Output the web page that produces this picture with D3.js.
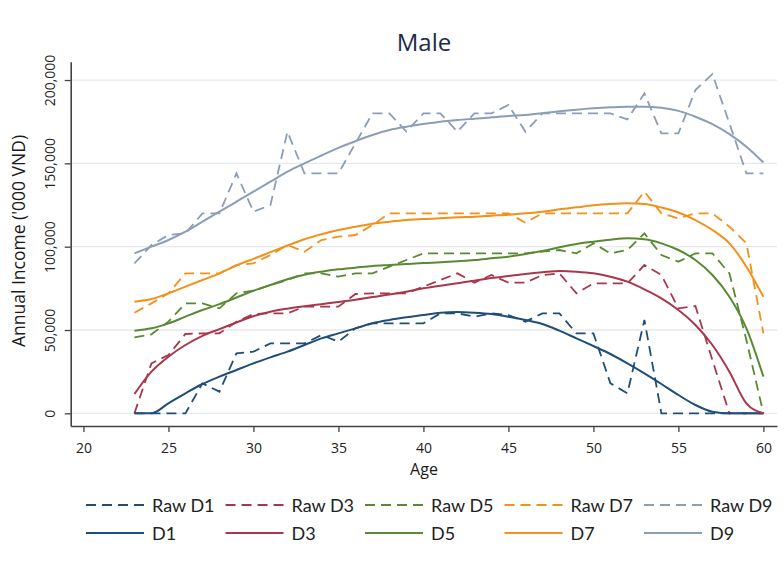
<!DOCTYPE html>
<html><head><meta charset="utf-8">
<script src="https://cdn.jsdelivr.net/npm/d3@7"></script>
<style>body{margin:0;background:#fff} svg{display:block}</style>
</head><body><svg id="c" width="784" height="573"></svg>
<script>
// ---- data ----
const ages = [23,24,25,26,27,28,29,30,31,32,33,34,35,36,37,38,39,40,41,42,43,44,45,46,47,48,49,50,51,52,53,54,55,56,57,58,59,60];

const rawD1 = [0,0,0,0,18000,13000,36000,37000,42000,42000,42000,47000,43000,51000,54000,54000,54000,54000,60000,60000,58000,60000,59000,55000,60000,60000,48000,48000,18000,12000,56000,0,0,0,0,0,0,0];
const rawD3 = [0,30000,35000,47600,48000,48000,55000,59600,60000,60000,64000,64000,64000,71600,72000,72000,72000,76000,80000,84000,78400,83000,78400,78400,83000,84000,72000,78000,78000,78000,89000,83000,63000,64400,32000,0,0,0];
const rawD5 = [45600,47400,55000,66000,66000,63000,72000,73600,77000,80000,84000,84000,82000,84000,84000,88000,92000,96000,96000,96000,96000,96000,96000,96000,97000,98000,96000,102000,96000,98000,108000,95000,91000,96000,96000,84000,44000,0];
const rawD7 = [60400,66000,72000,84000,84000,84000,89000,90000,95000,101000,97000,104000,106000,107000,113000,120000,120000,120000,120000,120000,120000,120000,120000,114400,120000,120000,120000,120000,120000,120000,133000,120000,117000,120000,120000,112000,102000,48000];
const rawD9 = [90000,101000,107000,108000,120000,120000,144000,121000,125000,169000,144000,144000,144000,162000,180000,180000,169000,180000,180000,169000,180000,180000,185000,169000,180000,180000,180000,180000,180000,176400,192000,168000,168000,194000,203600,174000,144000,144000];

const D1 = [0,0,6000,12000,17600,22000,26000,30000,33600,37000,41000,45000,48000,51000,54000,56000,57600,59000,60400,60800,60400,59600,58000,56000,53600,49600,45000,40400,35600,30000,24000,17600,11000,5000,1000,0,0,0];
const D3 = [11600,25000,34000,41000,46500,50500,54500,58300,61000,62800,64200,65500,66800,68200,69800,71300,73000,75000,76600,78000,79600,81200,82400,83600,84600,85400,85000,84000,82000,79000,74400,69000,62000,53000,41000,25000,6000,0];
const D5 = [49600,51000,54000,58000,62000,65500,69500,73500,77000,80500,83200,85000,86400,87400,88400,89000,89600,90200,90600,91200,92000,93000,94000,95600,97400,99600,101600,103000,104200,105000,104400,102000,98000,92000,83000,70000,51000,22000];
const D7 = [67000,68600,72000,76000,80000,84000,88700,92700,96700,100700,104500,107500,110000,112000,113800,115000,116000,116600,117000,117600,118000,118600,119200,120000,121000,122400,123600,124800,125600,126000,125600,123500,120500,116000,110000,102000,88000,70000];
const D9 = [96000,100000,104000,109000,115000,121000,127000,133000,139000,145000,150000,154700,159300,163300,167000,170000,172000,173600,175000,176000,176800,177600,178400,179000,180000,181200,182200,183000,183600,184000,184000,183300,181500,178000,173500,167500,160000,150500];

const seriesNames = ["D1","D3","D5","D7","D9"];
const rawSeries = [rawD1, rawD3, rawD5, rawD7, rawD9];
const smoothSeries = [D1, D3, D5, D7, D9];
const xTicks = [20,25,30,35,40,45,50,55,60];
const yTicks = [0,50000,100000,150000,200000];
const colors = ["#1f4e79","#a9374b","#5a8933","#f39019","#8c9db6"];

// ---- chart ----
const svg = d3.select("#c");
svg.append("rect").attr("width",784).attr("height",573).attr("fill","#fff");

const x = d3.scaleLinear().domain([19.25, 60.8]).range([70.7, 777]);
const y = d3.scaleLinear().domain([-7600, 211000]).range([426, 61.7]);

// grid
svg.append("g").selectAll("line").data(yTicks).join("line")
  .attr("x1", x(19.25)).attr("x2", x(60.8))
  .attr("y1", d => y(d)).attr("y2", d => y(d))
  .attr("stroke", "#e8e9ec").attr("stroke-width", 1.3);

// lines
const line = d3.line().x((d,i) => x(ages[i])).y(d => y(d));
const smoothLine = d3.line().x((d,i) => x(ages[i])).y(d => y(d)).curve(d3.curveMonotoneX);

rawSeries.forEach((s, k) => {
  svg.append("path").datum(s).attr("d", line)
    .attr("fill","none").attr("stroke", colors[k]).attr("stroke-width", 1.8)
    .attr("stroke-dasharray","10,6");
});
smoothSeries.forEach((s, k) => {
  svg.append("path").datum(s).attr("d", smoothLine)
    .attr("fill","none").attr("stroke", colors[k]).attr("stroke-width", 2);
});

// axes
const xAxis = svg.append("g").attr("transform", `translate(0,${y(-7600)})`)
  .call(d3.axisBottom(x).tickValues(xTicks).tickSize(6).tickSizeOuter(0).tickPadding(11));
const yAxis = svg.append("g").attr("transform", `translate(${x(19.25)},0)`)
  .call(d3.axisLeft(y).tickValues(yTicks).tickSize(6).tickSizeOuter(0).tickFormat(d3.format(",")));

[xAxis, yAxis].forEach(a => {
  a.select(".domain").attr("stroke", "#444").attr("stroke-width", 1.6);
  a.selectAll(".tick line").attr("stroke", "#444").attr("stroke-width", 1.3);
  a.selectAll(".tick text").attr("font-family", "'Open Sans', sans-serif")
    .attr("font-size", 14).attr("fill", "#222");
});
yAxis.selectAll(".tick text")
  .attr("x", null).attr("dy", null).attr("y", null)
  .attr("text-anchor", "middle")
  .attr("transform", "translate(-16,0) rotate(-90)");

// titles
svg.append("text").attr("x", 424).attr("y", 51).attr("text-anchor","middle")
  .attr("font-family","'Open Sans', sans-serif").attr("font-size", 24).attr("fill","#1b2a48")
  .text("Male");
svg.append("text").attr("transform","translate(25,241) rotate(-90)").attr("text-anchor","middle")
  .attr("font-family","'Open Sans', sans-serif").attr("font-size", 17.5).attr("fill","#1a1a1a")
  .text("Annual Income ('000 VND)");
svg.append("text").attr("x", 424).attr("y", 475).attr("text-anchor","middle")
  .attr("font-family","'Open Sans', sans-serif").attr("font-size", 16).attr("fill","#1a1a1a")
  .text("Age");

// legend
const lg = svg.append("g");
const rowsY = [505, 533];
seriesNames.forEach((name, i) => {
  const cx = 86 + i * 139.5;
  [0,1].forEach(r => {
    lg.append("line").attr("x1", cx).attr("x2", cx + 58)
      .attr("y1", rowsY[r]).attr("y2", rowsY[r])
      .attr("stroke", colors[i]).attr("stroke-width", r === 0 ? 1.8 : 2)
      .attr("stroke-dasharray", r === 0 ? "10,6" : null);
    lg.append("text").attr("x", cx + 66).attr("y", rowsY[r] + 7)
      .attr("font-family","Lato, 'Open Sans', sans-serif").attr("font-size", 18).attr("fill","#222")
      .text(r === 0 ? "Raw " + name : name);
  });
});
</script>
</body></html>
